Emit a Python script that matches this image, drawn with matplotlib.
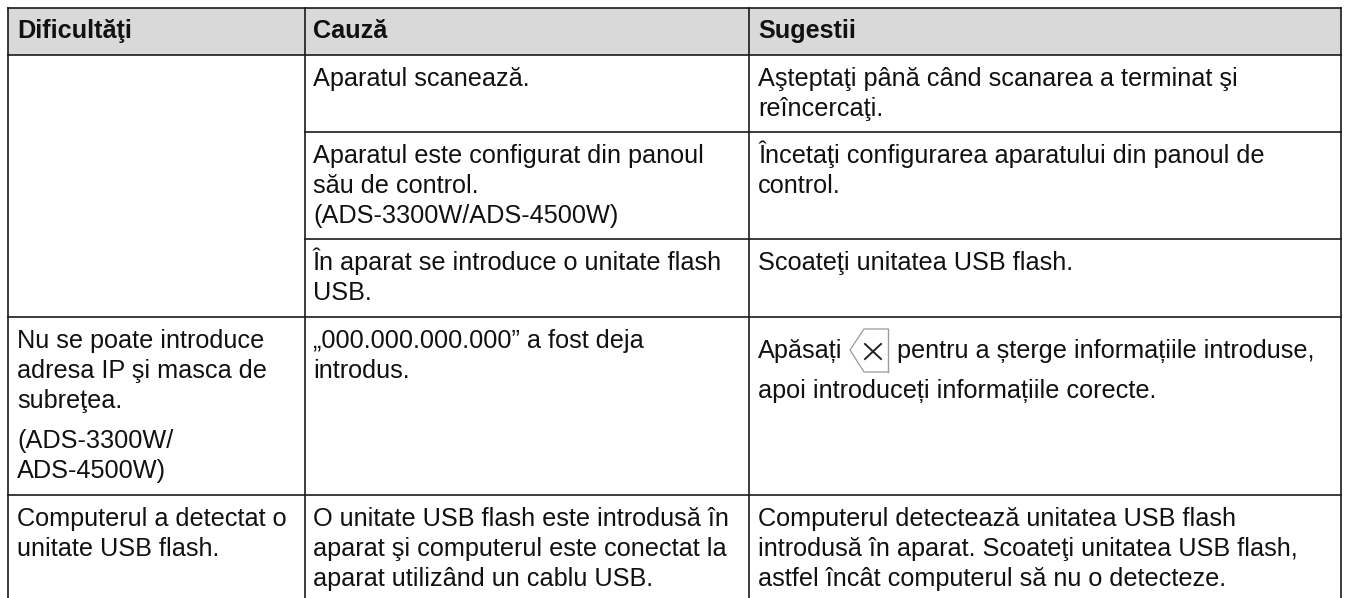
import matplotlib.pyplot as plt
from matplotlib.patches import Rectangle

plt.rcParams['font.family'] = ['Liberation Sans', 'DejaVu Sans']

#--- table contents
headers = ["Dificultăţi", "Cauză", "Sugestii"]

col_1 = [
    ["Nu se poate introduce", "adresa IP şi masca de", "subreţea."],
    ["(ADS-3300W/", "ADS-4500W)"],
    ["Computerul a detectat o", "unitate USB flash."],
]
col_2 = [
    ["Aparatul scanează."],
    ["Aparatul este configurat din panoul", "său de control.", "(ADS-3300W/ADS-4500W)"],
    ["În aparat se introduce o unitate flash", "USB."],
    ["„000.000.000.000” a fost deja", "introdus."],
    ["O unitate USB flash este introdusă în", "aparat şi computerul este conectat la", "aparat utilizând un cablu USB."],
]
col_3 = [
    ["Aşteptaţi până când scanarea a terminat şi", "reîncercaţi."],
    ["Încetaţi configurarea aparatului din panoul de", "control."],
    ["Scoateţi unitatea USB flash."],
    ["Computerul detectează unitatea USB flash", "introdusă în aparat. Scoateţi unitatea USB flash,", "astfel încât computerul să nu o detecteze."],
]
row_2 = ["Apăsați", "pentru a șterge informațiile introduse,", "apoi introduceți informațiile corecte."]

W, H = 1347, 598
fig = plt.figure(figsize=(W/100, H/100), dpi=100)
ax = fig.add_axes([0, 0, 1, 1])
ax.set_xlim(0, W)
ax.set_ylim(H, 0)
ax.axis('off')

FS = 18.2
STEP = 30
X1, X2, X3 = 17, 313, 758
line_col = '#1a1a1a'


def put(x, y, lines, step=STEP, **kw):
    for i, s in enumerate(lines):
        ax.text(x, y + i*step, s, fontsize=FS, color='#111111', va='baseline', **kw)


#--- header
ax.add_patch(Rectangle((8, 8), 1333, 47, facecolor='#d9d9d9', edgecolor='none'))
for x, s in zip([X1, X2, X3], headers):
    ax.text(x, 38, s, fontsize=FS, fontweight='bold', color='#111111', va='baseline')

#--- grid
ax.plot([8, 1341], [8, 8], color=line_col, lw=1.2)
ax.plot([8, 1341], [55, 55], color=line_col, lw=1.2)
for x in [8, 304.5, 748.5, 1341]:
    ax.plot([x, x], [8, H], color=line_col, lw=1.2)
for y in [132, 239]:
    ax.plot([304.5, 1341], [y, y], color=line_col, lw=1.2)
ax.plot([8, 1341], [317, 317], color=line_col, lw=1.2)
ax.plot([8, 1341], [495, 495], color=line_col, lw=1.2)

#--- text
put(X2, 86, col_2[0])
put(X2, 163, col_2[1])
put(X2, 270, col_2[2])
put(X2, 348, col_2[3])
put(X2, 526, col_2[4])

put(X3, 86, col_3[0])
put(X3, 163, col_3[1])
put(X3, 270, col_3[2])
put(X3, 526, col_3[3])

put(X1, 348, col_1[0])
put(X1, 448, col_1[1])
put(X1, 526, col_1[2])

#--- row with the key icon
put(X3, 358, row_2[:1])
put(897, 358, row_2[1:2])
put(X3, 398, row_2[2:])
ax.plot([888, 864, 850, 864, 888], [329, 329, 350, 372, 372], color='#9a9a9a', lw=0.9)
ax.plot([888, 888], [329, 372], color='#9a9a9a', lw=1.0)
ax.plot([865, 881], [344, 359], color='#222222', lw=1.4)
ax.plot([865, 881], [359, 344], color='#222222', lw=1.4)

fig.savefig('out.png', dpi=100)
